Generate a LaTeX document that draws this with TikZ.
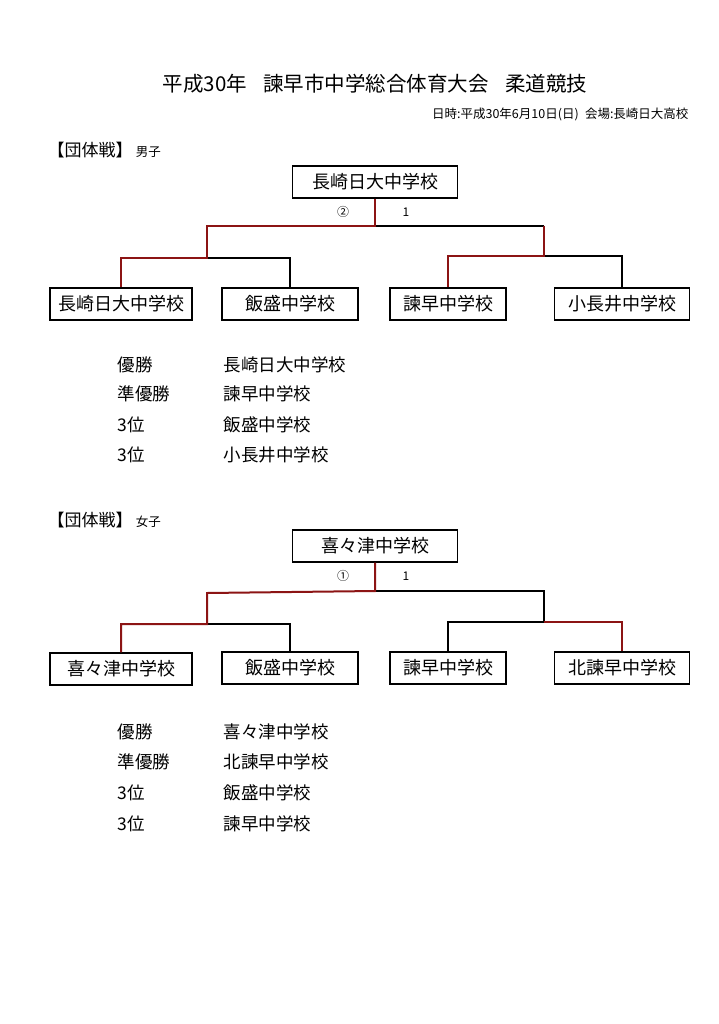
\documentclass[tikz,border=0pt]{standalone}
\usepackage{fontspec}
\setmainfont{Noto Sans CJK JP}
\begin{document}
\begin{tikzpicture}[x=1pt,y=-1pt,
 team/.style={draw,line width=1.4pt,minimum height=32pt,inner sep=0pt,font=\fontsize{18}{18}\selectfont},
 bl/.style={line width=1.3pt},
 rd/.style={line width=2pt,draw={rgb,255:red,140;green,20;blue,20}},
 lbl/.style={font=\fontsize{12}{12}\selectfont},
 res/.style={anchor=west,font=\fontsize{17.5}{18}\selectfont}]
\useasboundingbox[fill=white] (0,0) rectangle (718,1024);
\node (title) at (375,84) {\fontsize{20.5}{21}\selectfont 平成30年\hspace{0.8em}諫早市中学総合体育大会\hspace{0.8em}柔道競技};
\node[anchor=east] (sub) at (692,114) {\fontsize{12.5}{13}\selectfont 日時:平成30年6月10日(日)\hspace{0.5em}会場:長崎日大高校};
% ---------- boys
\node[anchor=west] (h1) at (44,150) {\fontsize{17}{17}\selectfont 【団体戦】\hspace{0.2em}{\fontsize{12.5}{12}\selectfont 男子}};
\node[team,minimum width=165pt] (w1) at (375,182) {長崎日大中学校};
\node[team,minimum width=142pt] (a1) at (121,304) {長崎日大中学校};
\node[team,minimum width=136pt] (b1) at (290,304) {飯盛中学校};
\node[team,minimum width=116pt] (c1) at (448,304) {諫早中学校};
\node[team,minimum width=135pt] (d1) at (622,304) {小長井中学校};
\coordinate (m1) at (375,226);
\coordinate (l1) at (207,226); \coordinate (r1) at (544,226);
\coordinate (ls1) at (207,258); \coordinate (rs1) at (544,256);
\node[lbl] (s1a) at (343,212) {②};
\node[lbl] (s1b) at (406,212) {1};
\draw[bl] (r1) -- (m1) (r1) -- (rs1) (ls1) -| (b1.north) (rs1) -| (d1.north);
\draw[rd] (w1.south) -- (m1) -- (l1) -- (ls1) -| (a1.north);
\draw[rd] (r1) -- (rs1) -| (c1.north);
\node[res] (p1) at (114,365) {優勝}; \node[res] (q1) at (220,365) {長崎日大中学校};
\node[res] (p2) at (114,394) {準優勝}; \node[res] (q2) at (220,394) {諫早中学校};
\node[res] (p3) at (114,425) {3位}; \node[res] (q3) at (220,425) {飯盛中学校};
\node[res] (p4) at (114,455) {3位}; \node[res] (q4) at (220,455) {小長井中学校};
% ---------- girls
\node[anchor=west] (h2) at (44,520) {\fontsize{17}{17}\selectfont 【団体戦】\hspace{0.2em}{\fontsize{12.5}{12}\selectfont 女子}};
\node[team,minimum width=165pt] (w2) at (375,546) {喜々津中学校};
\node[team,minimum width=142pt] (a2) at (121,669) {喜々津中学校};
\node[team,minimum width=136pt] (b2) at (290,668) {飯盛中学校};
\node[team,minimum width=116pt] (c2) at (448,668) {諫早中学校};
\node[team,minimum width=135pt] (d2) at (622,668) {北諫早中学校};
\coordinate (m2) at (375,591);
\coordinate (l2) at (207,593); \coordinate (r2) at (544,591);
\coordinate (ls2) at (207,624); \coordinate (rs2) at (544,622);
\node[lbl] (s2a) at (343,576) {①};
\node[lbl] (s2b) at (406,576) {1};
\draw[bl] (m2) -- (r2) -- (rs2) (ls2) -| (b2.north) (rs2) -| (c2.north);
\draw[rd] (w2.south) -- (m2) -- (l2) -- (ls2) -| (a2.north);
\draw[rd] (rs2) -| (d2.north);
\node[res] (p5) at (114,732) {優勝}; \node[res] (q5) at (220,732) {喜々津中学校};
\node[res] (p6) at (114,762) {準優勝}; \node[res] (q6) at (220,762) {北諫早中学校};
\node[res] (p7) at (114,793) {3位}; \node[res] (q7) at (220,793) {飯盛中学校};
\node[res] (p8) at (114,824) {3位}; \node[res] (q8) at (220,824) {諫早中学校};
\end{tikzpicture}
\end{document}
